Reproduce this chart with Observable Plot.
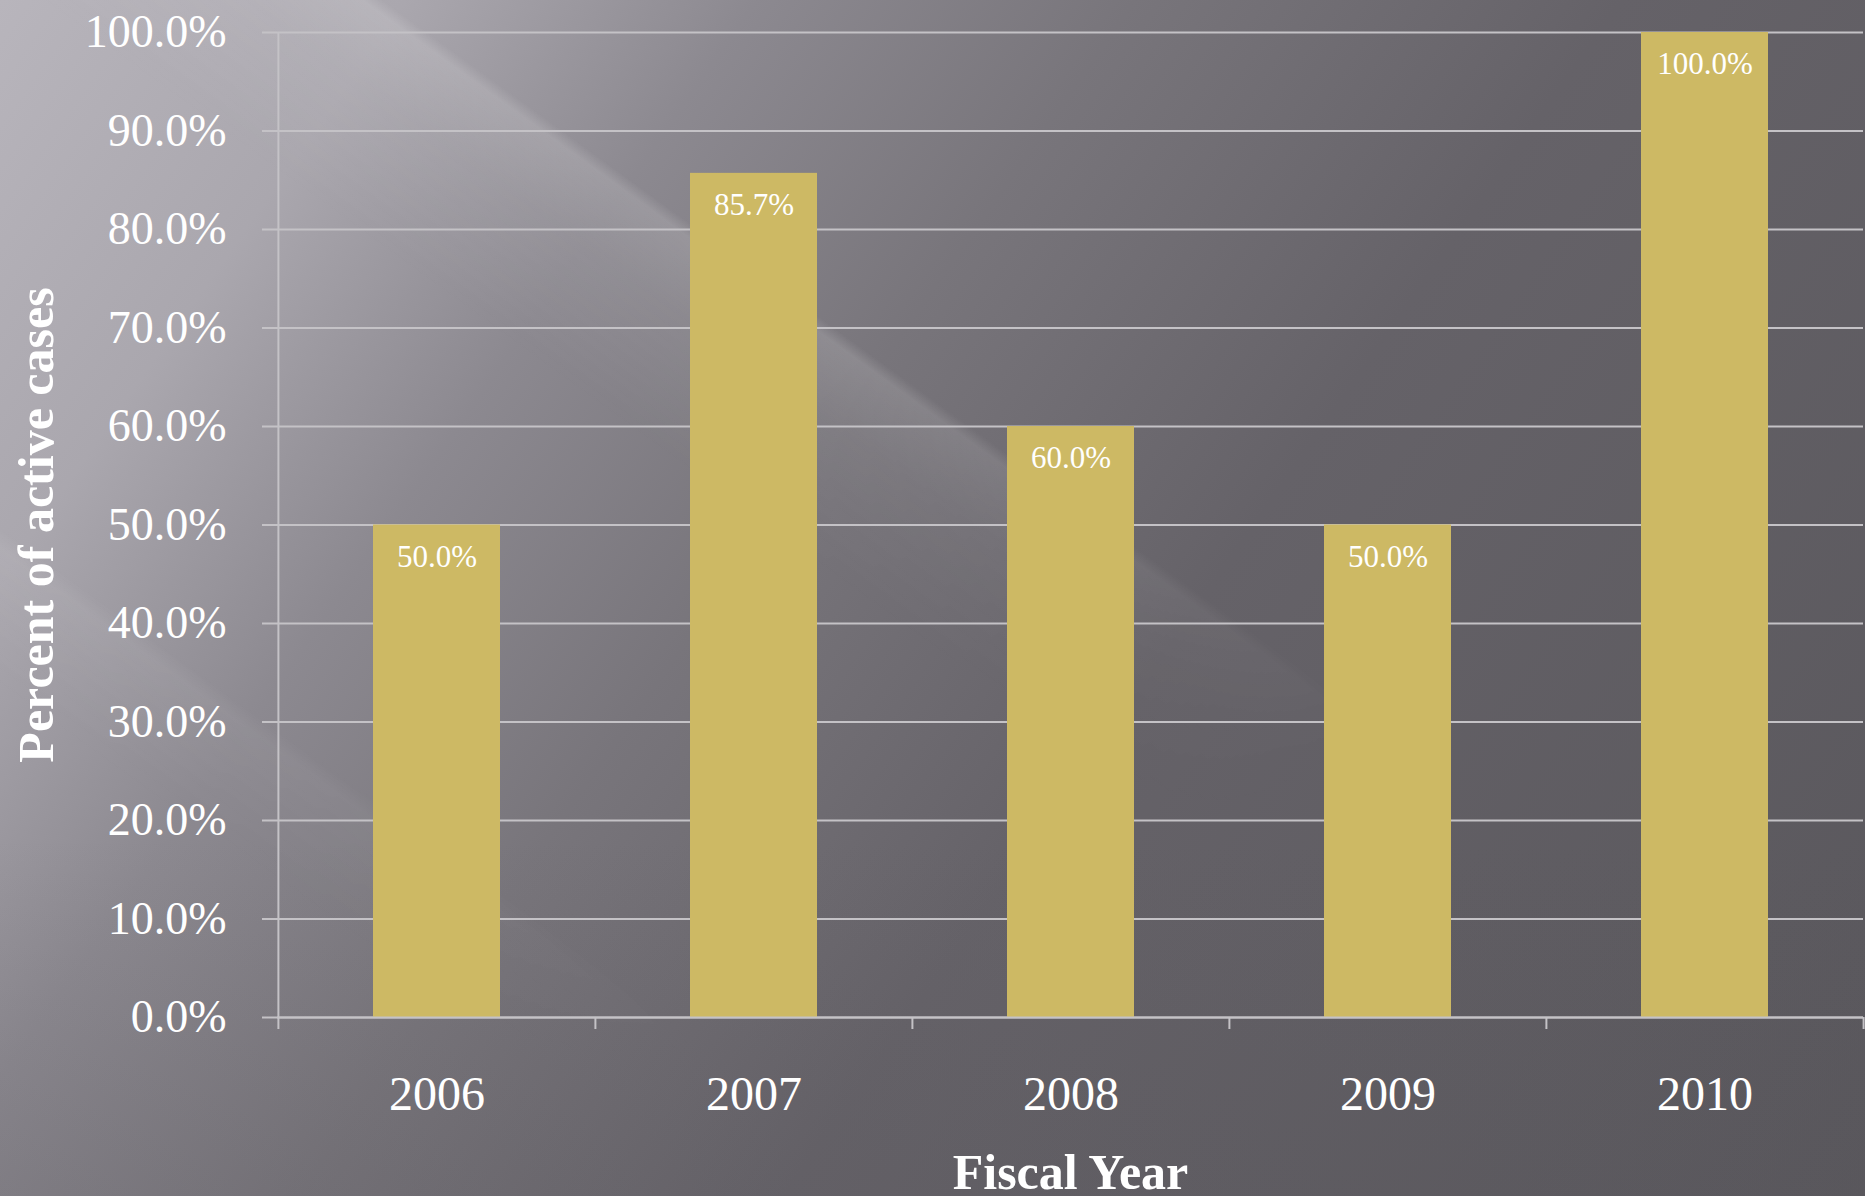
<!DOCTYPE html>
<html>
<head>
<meta charset="utf-8">
<script src="https://cdn.jsdelivr.net/npm/d3@7"></script>
<script src="https://cdn.jsdelivr.net/npm/@observablehq/plot@0.6"></script>
<style>
  html, body { margin: 0; padding: 0; overflow: hidden; }
  body {
    position: relative;
    width: 1865px; height: 1196px;
    background:
      linear-gradient(to top, rgba(88,86,92,0.18) 0%, rgba(88,86,92,0) 30%),
      linear-gradient(125deg, #b8b5bc 0%, #aaa7ae 15%, #8c8990 28%, #78757b 42%, #656268 60%, #59575c 100%);
    font-family: "Liberation Serif", "DejaVu Serif", serif;
  }
  #streaks {
    position: absolute; left: 0; top: 0; width: 1865px; height: 1196px;
    background:
      linear-gradient(36deg, rgba(255,255,255,0) 48%, rgba(255,255,255,0.07) 54%, rgba(255,255,255,0.15) 57.2%, rgba(255,255,255,0) 57.8%),
      linear-gradient(36deg, rgba(255,255,255,0) 20%, rgba(255,255,255,0.08) 25.4%, rgba(255,255,255,0) 26.2%);
    -webkit-mask-image: radial-gradient(ellipse 1450px 1100px at 300px 0px, black 50%, transparent 100%);
    mask-image: radial-gradient(ellipse 1450px 1100px at 300px 0px, black 50%, transparent 100%);
  }
  #chart { position: absolute; left: 0; top: 0; }
</style>
</head>
<body>
<div id="streaks"></div>
<div id="chart"></div>
<script>
const years = ["2006", "2007", "2008", "2009", "2010"];
const percents = [50.0, 85.7, 60.0, 50.0, 100.0];
const yTicks = [0, 10, 20, 30, 40, 50, 60, 70, 80, 90, 100];

const data = years.map((y, i) => ({year: y, value: percents[i]}));

const W = 1865, H = 1196;
const mL = 277, mR = 2, mT = 32, mB = 179;
const padIn = 0.6, padOut = 0.3;
const step = (W - mL - mR) / (years.length - padIn + 2 * padOut);

const gridColor = "#c4c2c6";
const fmt = d => d.toFixed(1) + "%";
const blank = () => "";

const chart = Plot.plot({
  width: W,
  height: H,
  marginLeft: mL,
  marginRight: mR,
  marginTop: mT,
  marginBottom: mB,
  style: {background: "transparent", fontFamily: "'Liberation Serif', serif", color: "white", overflow: "visible"},
  x: {domain: years, paddingInner: padIn, paddingOuter: padOut, label: null},
  y: {domain: [0, 100], label: null},
  marks: [
    Plot.gridY(yTicks, {stroke: gridColor, strokeOpacity: 1, strokeWidth: 2}),
    Plot.axisY({ticks: yTicks, tickSize: 15, tickPadding: 36, tickFormat: fmt, fontSize: 46, stroke: gridColor, strokeWidth: 2, strokeOpacity: 1, fill: "white", label: null}),
    Plot.ruleX([years[0]], {y1: 0, y2: 100, dx: -step / 2, stroke: gridColor, strokeWidth: 2}),
    Plot.axisX({ticks: years, tickSize: 12, dx: -step / 2, tickFormat: blank, stroke: gridColor, strokeWidth: 2, strokeOpacity: 1, label: null}),
    Plot.axisX({ticks: [years[years.length - 1]], tickSize: 12, dx: step / 2, tickFormat: blank, stroke: gridColor, strokeWidth: 2, strokeOpacity: 1, label: null}),
    Plot.axisX({ticks: years, tickSize: 0, tickPadding: 58, fontSize: 48, fill: "white", label: null}),
    Plot.barY(data, {x: "year", y: "value", fill: "#cdb964"}),
    Plot.ruleY([0], {stroke: gridColor, strokeWidth: 2}),
    Plot.text(data, {x: "year", y: "value", text: d => fmt(d.value), dy: 32, fill: "white", fontSize: 31, lineAnchor: "middle"}),
    Plot.text(["Fiscal Year"], {frameAnchor: "bottom", dy: 155, text: d => d, fill: "white", fontSize: 50, fontWeight: "bold", lineAnchor: "middle"}),
    Plot.text(["Percent of active cases"], {frameAnchor: "left", dx: -241, rotate: -90, text: d => d, fill: "white", fontSize: 50, fontWeight: "bold", textAnchor: "middle", lineAnchor: "middle"})
  ]
});
document.getElementById("chart").appendChild(chart);
</script>
</body>
</html>
